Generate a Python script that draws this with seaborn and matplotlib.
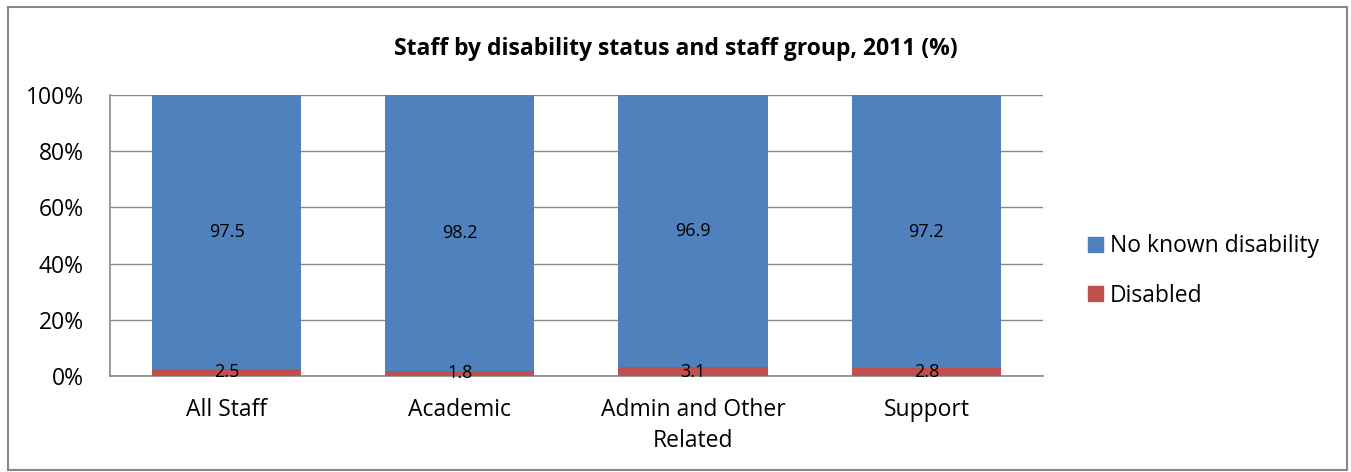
import pandas as pd
import seaborn as sns
import matplotlib.pyplot as plt
from matplotlib.patches import Patch, Rectangle

groups = ["All Staff", "Academic", "Admin and Other\nRelated", "Support"]
no_known = [97.5, 98.2, 96.9, 97.2]
disabled = [2.5, 1.8, 3.1, 2.8]

blue = "#4f81bd"
red = "#c0504d"
grey = "#878787"

df = pd.DataFrame({"group": groups, "no_known": no_known, "disabled": disabled})
df["total"] = df["no_known"] + df["disabled"]

sns.set_style("white")
plt.rcParams["font.family"] = ["Open Sans", "DejaVu Sans"]
plt.rcParams["text.color"] = "black"
plt.rcParams["xtick.color"] = "black"
plt.rcParams["ytick.color"] = "black"

fig = plt.figure(figsize=(13.51, 4.72), dpi=100)
ax = fig.add_axes([0.0814, 0.2034, 0.6906, 0.5953])

# stacked: draw the total in blue, then the disabled part over it in red
sns.barplot(data=df, x="group", y="total", color=blue, width=0.64,
            saturation=1, linewidth=0, ax=ax, zorder=2)
sns.barplot(data=df, x="group", y="disabled", color=red, width=0.64,
            saturation=1, linewidth=0, ax=ax, zorder=3)

for i, (d, n) in enumerate(zip(disabled, no_known)):
    ax.text(i, d + n / 2, f"{n}", ha="center", va="center", fontsize=13, zorder=4)
    ax.text(i, d / 2, f"{d}", ha="center", va="center", fontsize=13, zorder=4)

ax.set_ylim(0, 100)
ax.set_xlim(-0.5, 3.5)
ax.set_yticks(range(0, 101, 20))
ax.set_yticklabels([f"{v}%" for v in range(0, 101, 20)], fontsize=16.5)
ax.tick_params(axis="x", labelsize=16.5, length=0, pad=16)
ax.tick_params(axis="y", length=0, pad=19)
for lbl in ax.get_xticklabels():
    lbl.set_linespacing(1.35)
ax.set_xlabel("")
ax.set_ylabel("")
ax.yaxis.grid(True, color=grey, linewidth=1.0, zorder=0)
ax.set_axisbelow(True)
for s in ["top", "right"]:
    ax.spines[s].set_visible(False)
for s in ["left", "bottom"]:
    ax.spines[s].set_color(grey)
    ax.spines[s].set_linewidth(1.2)

fig.text(0.5, 0.897, "Staff by disability status and staff group, 2011 (%)",
         ha="center", va="center", fontsize=16.5, fontweight="bold")

handles = [Patch(color=blue, label="No known disability"),
           Patch(color=red, label="Disabled")]
fig.legend(handles=handles, loc="center left", bbox_to_anchor=(0.79, 0.426),
           frameon=False, fontsize=16.5, handlelength=0.65, handleheight=0.65,
           handletextpad=0.3, labelspacing=1.1)

fig.add_artist(Rectangle((0.006, 0.004), 0.991, 0.981, transform=fig.transFigure,
                         fill=False, edgecolor=grey, linewidth=1.5))

fig.savefig("out.png", dpi=100)
